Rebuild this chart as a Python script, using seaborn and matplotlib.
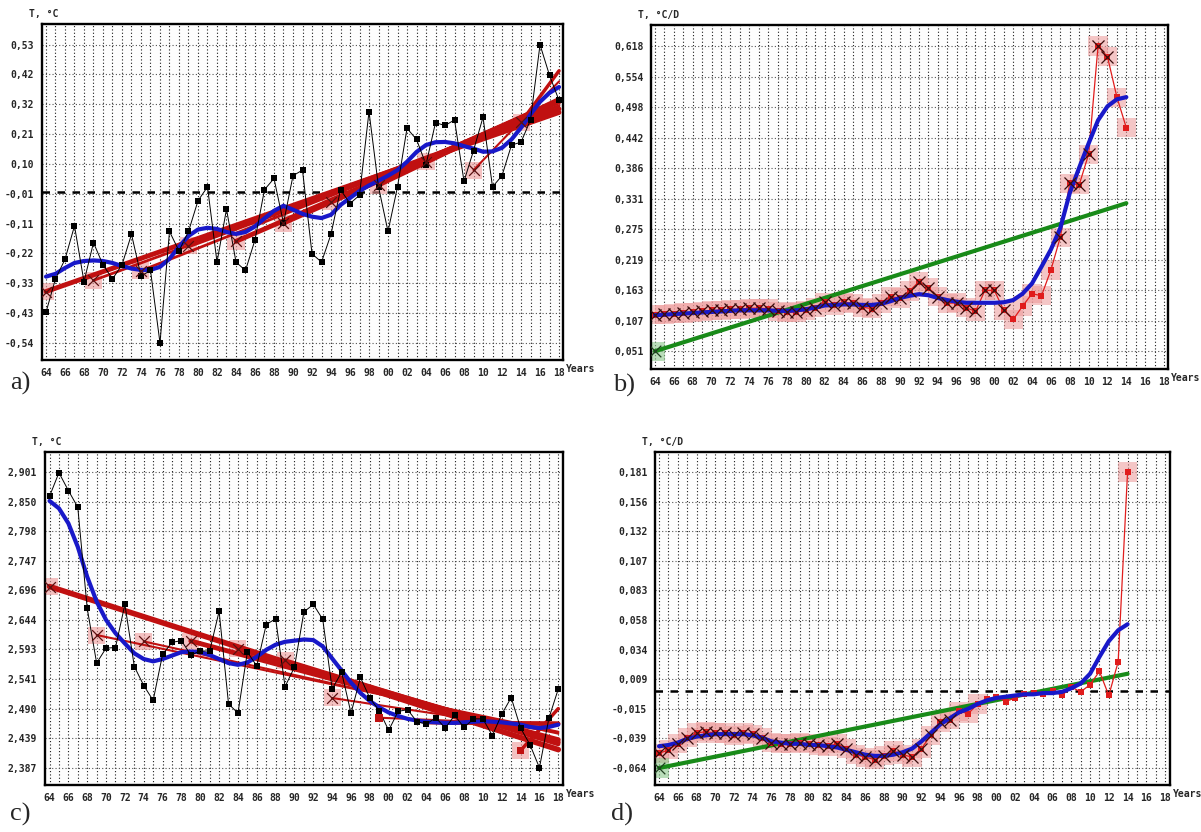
import numpy as np
import matplotlib
matplotlib.use("Agg")
import matplotlib.pyplot as plt
import seaborn as sns

# ---- data ----
years_long = np.arange(1964, 2019)   # panels a, c
years_short = np.arange(1964, 2015)  # panels b, d

# a) annual temperature anomaly, T, °C
temp_a = [-0.43, -0.31, -0.24, -0.12, -0.32, -0.18, -0.26, -0.31, -0.26, -0.15,
          -0.30, -0.28, -0.54, -0.14, -0.21, -0.14, -0.03, 0.02, -0.25, -0.06,
          -0.25, -0.28, -0.17, 0.01, 0.05, -0.11, 0.06, 0.08, -0.22, -0.25,
          -0.15, 0.01, -0.04, -0.01, 0.29, 0.02, -0.14, 0.02, 0.23, 0.19,
          0.10, 0.25, 0.24, 0.26, 0.04, 0.15, 0.27, 0.02, 0.06, 0.17,
          0.18, 0.26, 0.53, 0.42, 0.33]
smooth_a = [-0.302, -0.292, -0.271, -0.253, -0.246, -0.244, -0.246, -0.253, -0.264, -0.273,
            -0.278, -0.278, -0.267, -0.238, -0.195, -0.156, -0.133, -0.127, -0.131, -0.142,
            -0.149, -0.142, -0.122, -0.093, -0.066, -0.048, -0.062, -0.077, -0.087, -0.092,
            -0.080, -0.045, -0.020, 0.005, 0.025, 0.042, 0.060, 0.080, 0.110, 0.145,
            0.170, 0.180, 0.181, 0.176, 0.166, 0.157, 0.146, 0.147, 0.160, 0.190,
            0.232, 0.280, 0.325, 0.357, 0.378]
ylabels_a = ["0,53", "0,42", "0,32", "0,21", "0,10", "-0,01", "-0,11", "-0,22", "-0,33", "-0,43", "-0,54"]

# b) rate, T, °C/D
rate_b = [0.119, 0.120, 0.121, 0.122, 0.123, 0.125, 0.127, 0.127, 0.129, 0.129,
          0.131, 0.131, 0.130, 0.125, 0.123, 0.124, 0.127, 0.132, 0.142, 0.137,
          0.142, 0.140, 0.133, 0.130, 0.140, 0.152, 0.150, 0.163, 0.180, 0.169,
          0.152, 0.140, 0.141, 0.132, 0.125, 0.164, 0.164, 0.127, 0.110, 0.135,
          0.158, 0.154, 0.202, 0.263, 0.363, 0.360, 0.417, 0.618, 0.598, 0.523,
          0.466]
smooth_b = [0.118, 0.119, 0.120, 0.121, 0.122, 0.123, 0.124, 0.125, 0.126, 0.127,
            0.127, 0.127, 0.127, 0.126, 0.126, 0.127, 0.129, 0.132, 0.136, 0.137,
            0.138, 0.138, 0.137, 0.137, 0.139, 0.144, 0.150, 0.154, 0.157, 0.155,
            0.150, 0.146, 0.143, 0.141, 0.141, 0.141, 0.141, 0.142, 0.146, 0.158,
            0.177, 0.208, 0.240, 0.280, 0.345, 0.392, 0.437, 0.480, 0.506, 0.519,
            0.523]
trend_years_b = [1964, 2014]
trend_b = [0.051, 0.326]
cross_years_b = list(range(1964, 2002)) + list(range(2007, 2013))
ylabels_b = ["0,618", "0,554", "0,498", "0,442", "0,386", "0,331", "0,275", "0,219", "0,163", "0,107", "0,051"]

# c) annual temperature, T, °C
temp_c = [2.859, 2.900, 2.869, 2.840, 2.664, 2.569, 2.595, 2.596, 2.671, 2.563,
          2.530, 2.504, 2.584, 2.605, 2.608, 2.583, 2.590, 2.590, 2.659, 2.498,
          2.482, 2.588, 2.564, 2.636, 2.646, 2.528, 2.562, 2.658, 2.671, 2.645,
          2.524, 2.553, 2.482, 2.544, 2.508, 2.486, 2.452, 2.485, 2.488, 2.467,
          2.463, 2.474, 2.456, 2.478, 2.457, 2.472, 2.472, 2.443, 2.480, 2.509,
          2.456, 2.427, 2.387, 2.473, 2.524]
smooth_c = [2.851, 2.838, 2.812, 2.771, 2.719, 2.676, 2.644, 2.621, 2.603, 2.586,
            2.576, 2.572, 2.576, 2.582, 2.588, 2.589, 2.588, 2.583, 2.576, 2.569,
            2.566, 2.570, 2.580, 2.592, 2.601, 2.606, 2.608, 2.610, 2.609, 2.598,
            2.577, 2.556, 2.535, 2.517, 2.503, 2.492, 2.483, 2.477, 2.472, 2.469,
            2.467, 2.466, 2.465, 2.465, 2.466, 2.467, 2.468, 2.467, 2.466, 2.464,
            2.462, 2.458, 2.456, 2.458, 2.462]
ylabels_c = ["2,901", "2,850", "2,798", "2,747", "2,696", "2,644", "2,593", "2,541", "2,490", "2,439", "2,387"]

# d) rate, T, °C/D
rate_d = [-0.052, -0.049, -0.044, -0.039, -0.035, -0.034, -0.035, -0.035, -0.037, -0.035,
          -0.036, -0.039, -0.043, -0.044, -0.044, -0.043, -0.044, -0.045, -0.046, -0.044,
          -0.048, -0.053, -0.055, -0.057, -0.054, -0.050, -0.053, -0.055, -0.048, -0.037,
          -0.026, -0.024, -0.017, -0.019, -0.011, -0.007, -0.005, -0.009, -0.006, -0.003,
          -0.002, -0.003, 0.000, -0.004, 0.003, -0.001, 0.005, 0.016, -0.004, 0.024,
          0.181]
smooth_d = [-0.046, -0.045, -0.043, -0.040, -0.038, -0.037, -0.036, -0.036, -0.036, -0.036,
            -0.037, -0.039, -0.042, -0.043, -0.044, -0.044, -0.045, -0.045, -0.046, -0.047,
            -0.049, -0.051, -0.053, -0.054, -0.054, -0.053, -0.051, -0.048, -0.042, -0.035,
            -0.028, -0.023, -0.018, -0.015, -0.011, -0.008, -0.006, -0.005, -0.004, -0.003,
            -0.003, -0.002, -0.002, -0.001, 0.002, 0.006, 0.014, 0.028, 0.041, 0.050,
            0.055]
trend_years_d = [1964, 2014]
trend_d = [-0.064, 0.014]
cross_years_d = list(range(1964, 1996))
pink_years_d = list(range(1964, 1999)) + [2014]
ylabels_d = ["0,181", "0,156", "0,132", "0,107", "0,083", "0,058", "0,034", "0,009", "-0,015", "-0,039", "-0,064"]

# start years of the progressive linear trends in a) and c)
trend_starts = [1964, 1969, 1974, 1979, 1984, 1989, 1994, 1999, 2004, 2009, 2014]

# ---- styles ----
W, H = 1201, 832
TREND_RED = "#c01010"
BLUE = "#1818c8"
GREEN = "#188a18"
SERIES_RED = "#e01c1c"
PINK = "#ee9a9a"
MONO = dict(family="DejaVu Sans Mono", fontweight="bold", fontsize=7)

sns.set_style("white")
plt.rcParams["font.family"] = ["DejaVu Sans Mono", "DejaVu Sans"]

fig = plt.figure(figsize=(W / 100, H / 100), dpi=100)
fig.patch.set_facecolor("white")


def rect(l, t, r, b):
    return [l / W, 1 - b / H, (r - l) / W, (b - t) / H]


def style_axes(ax, xlim, ylim, ylabels, unit):
    ax.set_facecolor("#fdfdfd")
    ax.set_xlim(xlim)
    ax.set_ylim(ylim)
    major = np.arange(1964, 2019, 2)
    ax.set_xticks(major)
    ax.set_xticklabels([f"{y % 100:02d}" for y in major], **MONO)
    ax.set_xticks(np.arange(1964, 2019), minor=True)
    top = float(ylabels[0].replace(",", "."))
    bot = float(ylabels[-1].replace(",", "."))
    ax.set_yticks(np.linspace(top, bot, len(ylabels)))
    ax.set_yticklabels(ylabels, **MONO)
    ax.grid(True, which="both", axis="x", color="#1a1a1a", ls=(0, (1, 2)), lw=0.8)
    ax.grid(True, which="major", axis="y", color="#555555", ls=(0, (1, 2)), lw=0.8)
    ax.set_axisbelow(True)
    ax.tick_params(axis="both", which="major", direction="out", length=4, width=1,
                   color="k", pad=1.5)
    ax.tick_params(axis="x", which="minor", direction="out", length=3, width=1, color="k")
    for sp in ax.spines.values():
        sp.set_visible(True)
        sp.set_linewidth(1.7)
        sp.set_color("k")
    ax.set_xlabel("")
    ax.set_ylabel("")
    ax.text(1.006, -0.027, "Years", transform=ax.transAxes, ha="left", va="center", **MONO)
    ax.text(-0.025, 1.03, unit, transform=ax.transAxes, ha="left", va="center", **MONO)


def draw_temperature(ax, vals, smooth, widths, marks):
    vals = np.asarray(vals)
    ax.axhline(0, color="k", ls=(0, (3, 3)), lw=1.8, zorder=2)
    for start, w, m in zip(trend_starts, widths, marks):
        sel = years_long >= start
        sns.regplot(x=years_long[sel], y=vals[sel], ax=ax, scatter=False, ci=None,
                    truncate=True, color=TREND_RED, line_kws=dict(lw=w, zorder=3))
        y0 = np.polyval(np.polyfit(years_long[sel], vals[sel], 1), start)
        if m in ("x", "sp"):
            ax.scatter([start], [y0], marker="s", s=150, color=PINK, alpha=0.6,
                       edgecolors="none", zorder=2.5)
        if m == "x":
            ax.scatter([start], [y0], marker="x", s=60, color="#5a1010", lw=0.9, zorder=6)
        if m in ("s", "sp"):
            ax.scatter([start], [y0], marker="s", s=30, color=TREND_RED,
                       edgecolors="none", zorder=6)
    sns.lineplot(x=years_long, y=smooth, ax=ax, color=BLUE, lw=3, zorder=4)
    sns.lineplot(x=years_long, y=vals, ax=ax, color="k", lw=0.7, marker="s",
                 markersize=5, markeredgewidth=0, zorder=5)


def draw_rate(ax, vals, smooth, t_years, t_vals, cross_years, pink_years):
    vals = np.asarray(vals)
    pink = np.isin(years_short, pink_years)
    cross = np.isin(years_short, cross_years)
    ax.scatter(years_short[pink], vals[pink], marker="s", s=190, color=PINK, alpha=0.55,
               edgecolors="none", zorder=2)
    ax.scatter([t_years[0]], [t_vals[0]], marker="s", s=190, color="#8cc88c", alpha=0.6,
               edgecolors="none", zorder=2)
    sns.lineplot(x=t_years, y=t_vals, ax=ax, color=GREEN, lw=3, zorder=3)
    ax.scatter([t_years[0]], [t_vals[0]], marker="x", s=70, color="#204020", lw=0.9, zorder=6)
    sns.lineplot(x=years_short, y=vals, ax=ax, color=SERIES_RED, lw=0.9, marker="s",
                 markersize=4.5, markeredgewidth=0, zorder=4)
    sns.lineplot(x=years_short, y=smooth, ax=ax, color=BLUE, lw=3, zorder=5)
    ax.scatter(years_short[cross], vals[cross], marker="x", s=75, color="#3a0c0c",
               lw=0.9, zorder=6)


# a)
ax_a = fig.add_axes(rect(42, 24, 563, 360))
draw_temperature(ax_a, temp_a, smooth_a,
                 widths=[3.5, 2, 2, 3.5, 3.5, 3.5, 3.5, 3, 3, 1.5, 2.5],
                 marks=["x"] * 11)
style_axes(ax_a, (1963.58, 2018.42), (-0.601, 0.604), ylabels_a, "T, °C")

# b)
ax_b = fig.add_axes(rect(651, 25, 1168, 369))
draw_rate(ax_b, rate_b, smooth_b, trend_years_b, trend_b, cross_years_b, list(years_short))
style_axes(ax_b, (1963.58, 2018.42), (0.018, 0.657), ylabels_b, "T, °C/D")

# c)
ax_c = fig.add_axes(rect(45, 452, 563, 785))
draw_temperature(ax_c, temp_c, smooth_c,
                 widths=[4, 1.5, 1.5, 3.5, 3.5, 3, 1.5, 1.5, 3, 3, 2.5],
                 marks=["x"] * 7 + ["s", "", "", "sp"])
ax_c.lines[0].set_visible(False)  # no zero line in c)
style_axes(ax_c, (1963.52, 2018.5), (2.357, 2.936), ylabels_c, "T, °C")

# d)
ax_d = fig.add_axes(rect(655, 452, 1170, 785))
ax_d.axhline(0, color="k", ls=(0, (3, 3)), lw=1.8, zorder=2)
draw_rate(ax_d, rate_d, smooth_d, trend_years_d, trend_d, cross_years_d, pink_years_d)
style_axes(ax_d, (1963.57, 2018.53), (-0.0781, 0.1976), ylabels_d, "T, °C/D")

# panel letters
for lab, px, py in [("a)", 10, 383), ("b)", 613, 385), ("c)", 10, 814), ("d)", 611, 814)]:
    fig.text(px / W, 1 - py / H, lab, fontsize=19, family="Liberation Serif",
             ha="left", va="center")

fig.savefig("out.png", dpi=100, facecolor="white")
